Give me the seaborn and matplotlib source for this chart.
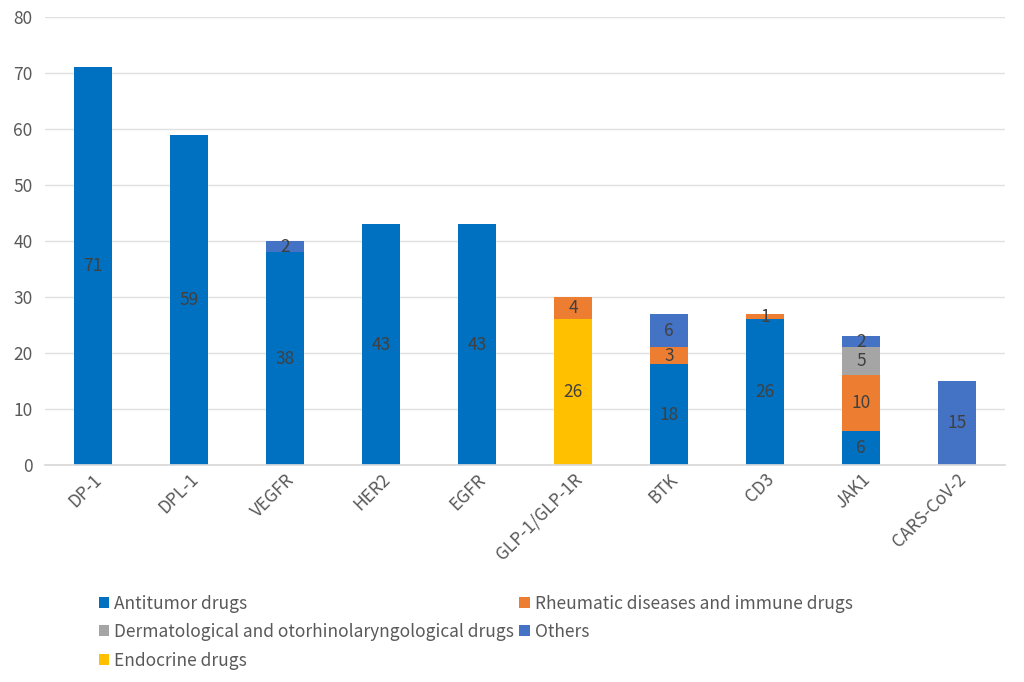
import matplotlib

matplotlib.use("Agg")
import matplotlib.pyplot as plt
import numpy as np
import seaborn as sns
from matplotlib.patches import Patch

TARGETS = ["DP-1", "DPL-1", "VEGFR", "HER2", "EGFR", "GLP-1/GLP-1R", "BTK", "CD3", "JAK1", "CARS-CoV-2"]
ANTITUMOR = [71, 59, 38, 43, 43, 0, 18, 26, 6, 0]
ENDOCRINE = [0, 0, 0, 0, 0, 26, 0, 0, 0, 0]
RHEUMATIC = [0, 0, 0, 0, 0, 4, 3, 1, 10, 0]
DERMATOLOGICAL = [0, 0, 0, 0, 0, 0, 0, 0, 5, 0]
OTHERS = [0, 0, 2, 0, 0, 0, 6, 0, 2, 15]

SERIES = [
    ("Antitumor drugs", ANTITUMOR, "#0070C0"),
    ("Endocrine drugs", ENDOCRINE, "#FFC000"),
    ("Rheumatic diseases and immune drugs", RHEUMATIC, "#ED7D31"),
    ("Dermatological and otorhinolaryngological drugs", DERMATOLOGICAL, "#A5A5A5"),
    ("Others", OTHERS, "#4472C4"),
]
LEGEND_ORDER = [
    "Antitumor drugs",
    "Dermatological and otorhinolaryngological drugs",
    "Endocrine drugs",
    "Rheumatic diseases and immune drugs",
    "Others",
]

TEXT_COLOR = "#595959"


def main() -> None:
    sns.set_theme(style="white")
    plt.rcParams["font.family"] = ["Noto Sans CJK SC", "DejaVu Sans"]

    fig = plt.figure(figsize=(10.24, 6.82), dpi=100)
    ax = fig.add_axes([45 / 1024, 1 - 465 / 682, 960 / 1024, 448 / 682])

    bottom = np.zeros(len(TARGETS))
    for name, values, color in SERIES:
        vals = np.array(values, dtype=float)
        sns.barplot(x=TARGETS, y=vals, bottom=bottom, color=color, saturation=1,
                    width=0.4, ax=ax, edgecolor="none", linewidth=0)
        for i, v in enumerate(vals):
            if v > 0:
                ax.text(i, bottom[i] + v / 2, f"{int(v)}", ha="center", va="center",
                        fontsize=12.5, color="#404040")
        bottom += vals

    ax.set_xlim(-0.5, len(TARGETS) - 0.5)
    ax.set_ylim(0, 80)
    ax.set_yticks(range(0, 81, 10))
    ax.yaxis.grid(True, color="#E0E0E0", linewidth=1)
    ax.set_axisbelow(True)
    for side in ["top", "right", "left"]:
        ax.spines[side].set_visible(False)
    ax.spines["bottom"].set_color("#D9D9D9")
    ax.tick_params(axis="both", length=0, labelsize=12.5, colors=TEXT_COLOR)
    ax.tick_params(axis="y", pad=9)
    ax.tick_params(axis="x", pad=4)
    plt.setp(ax.get_xticklabels(), rotation=45, ha="right", rotation_mode="anchor")

    colors = {name: color for name, _, color in SERIES}
    handles = [Patch(facecolor=colors[n], edgecolor="none") for n in LEGEND_ORDER]
    fig.legend(handles, LEGEND_ORDER, loc="upper left", bbox_to_anchor=(90 / 1024, 1 - 586 / 682),
               ncol=2, frameon=False, fontsize=12.5, labelcolor=TEXT_COLOR,
               handlelength=0.6, handleheight=0.6, handletextpad=0.3,
               columnspacing=0.3, labelspacing=0.6, borderpad=0)

    fig.savefig("out.png", dpi=100)


if __name__ == "__main__":
    main()
